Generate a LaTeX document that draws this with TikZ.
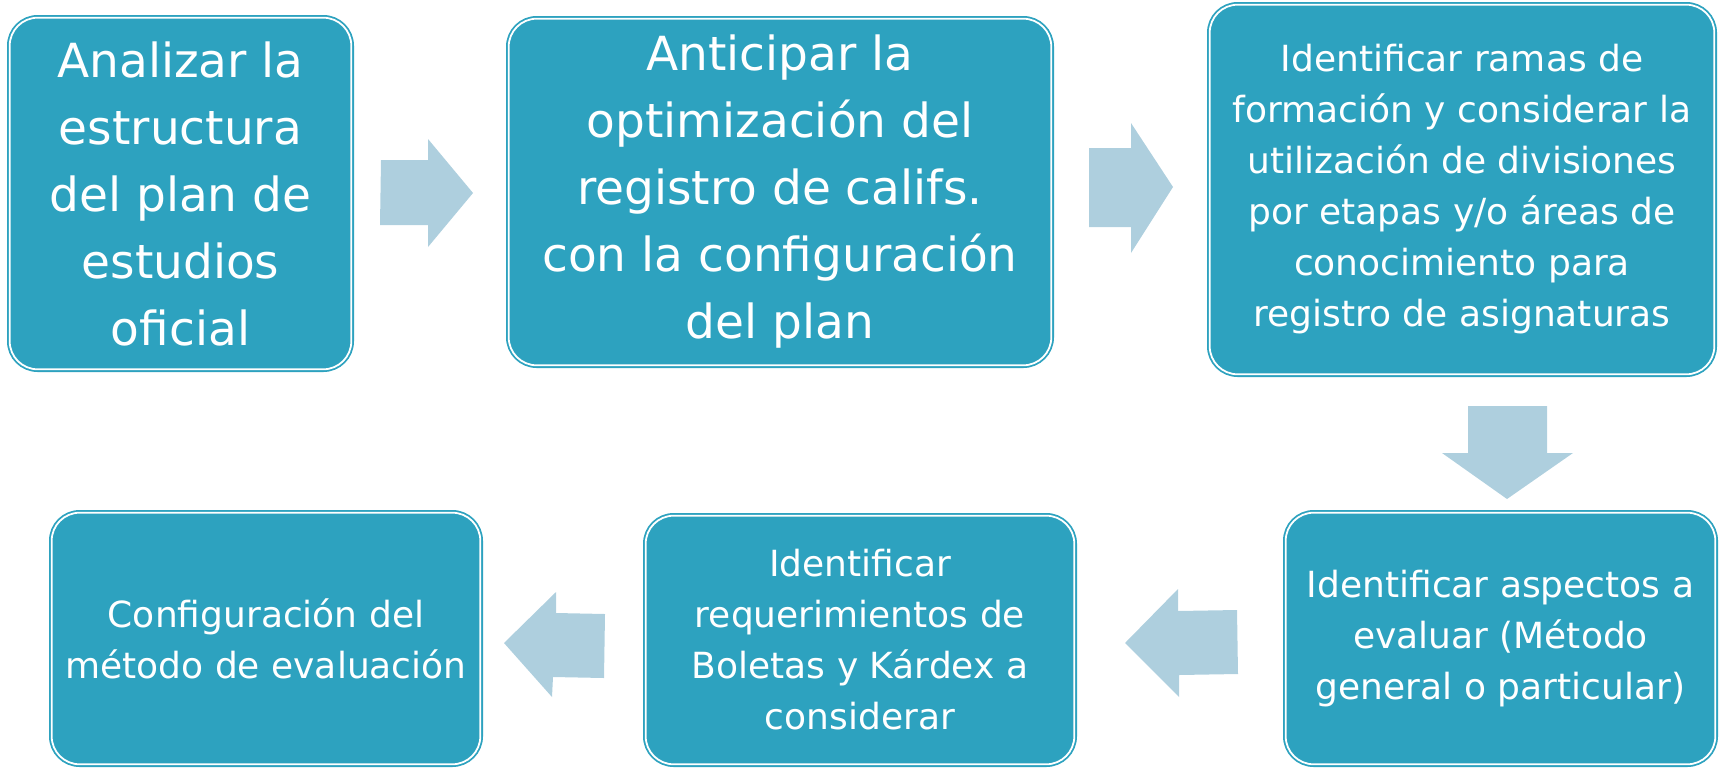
\documentclass[tikz,border=0pt]{standalone}
\usepackage{fontspec}
\setmainfont{DejaVu Sans}
\definecolor{BoxTeal}{RGB}{45,162,191}
\definecolor{ArrowBlue}{RGB}{174,207,222}
\tikzset{
  box/.style={draw=BoxTeal, double=white, line width=1.8pt, double distance=1.8pt,
    fill=BoxTeal, rounded corners=28pt, text=white, align=center, inner sep=0pt},
  bigtext/.style={font=\fontsize{47}{67}\selectfont},
  smalltext/.style={font=\fontsize{36}{51}\selectfont},
  blockarrow/.style={fill=ArrowBlue, draw=none}
}
\begin{document}
\begin{tikzpicture}[x=1pt,y=-1pt]
\useasboundingbox (0,0) rectangle (1721,769);

\node[box, bigtext, minimum width=341.6pt, minimum height=351.6pt] (b1) at (180.5,193.5)
  {Analizar la\\estructura\\del plan de\\estudios\\oficial};
\node[box, bigtext, minimum width=542.6pt, minimum height=346.6pt] (b2) at (780,192)
  {Anticipar la\\optimización del\\registro de califs.\\con la configuración\\del plan};
\node[box, smalltext, minimum width=504.6pt, minimum height=369.6pt] (b3) at (1462,189.5)
  {Identificar ramas de\\formación y considerar la\\utilización de divisiones\\por etapas y/o áreas de\\conocimiento para\\registro de asignaturas};
\node[box, smalltext, minimum width=429.6pt, minimum height=251.6pt] (b4) at (1500.5,638.5)
  {Identificar aspectos a\\evaluar (Método\\general o particular)};
\node[box, smalltext, minimum width=428.6pt, minimum height=248.6pt] (b5) at (860,640)
  {Identificar\\requerimientos de\\Boletas y Kárdex a\\considerar};
\node[box, smalltext, minimum width=428.6pt, minimum height=251.6pt] (b6) at (266,638.5)
  {Configuración del\\método de evaluación};

% block arrows
\fill[blockarrow] (381,160) -- (428,160) -- (428,139) -- (473,193) -- (428,247) -- (428,225) -- (380,225) -- cycle;
\fill[blockarrow] (1089,148) -- (1131,148) -- (1131,123) -- (1173,187) -- (1131,253) -- (1131,227) -- (1089,227) -- cycle;
\fill[blockarrow] (1468,406) -- (1547,406) -- (1547,453) -- (1573,453) -- (1507,499) -- (1442,453) -- (1468,453) -- cycle;
\fill[blockarrow] (1237,610) -- (1178,611) -- (1178,589) -- (1125,643) -- (1179,697) -- (1179,675) -- (1238,674) -- cycle;
\fill[blockarrow] (605,614) -- (556,613) -- (556,592) -- (504,643) -- (552,697) -- (553,677) -- (604,678) -- cycle;
\end{tikzpicture}
\end{document}
